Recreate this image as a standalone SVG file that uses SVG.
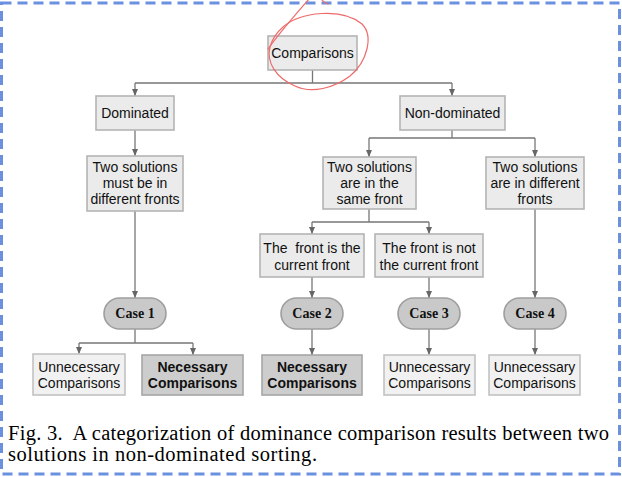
<svg xmlns="http://www.w3.org/2000/svg" width="622" height="477" viewBox="0 0 622 477">
<style>
.box{fill:#ebebeb;stroke:#b4b4b4;stroke-width:1.6}
.nec{fill:#cdcdcd;stroke:#a6a6a6;stroke-width:1.6}
.unn{fill:#f1f1f1;stroke:#c2c2c2;stroke-width:1.6}
.pill{fill:#c9c9c9;stroke:#9e9e9e;stroke-width:1.6}
.t{font-family:"Liberation Sans",Arial,sans-serif;font-size:14px;fill:#111;text-anchor:middle}
.b{font-weight:bold}
.c{font-family:"Liberation Serif","Times New Roman",serif;font-size:14px;font-weight:bold;fill:#111;text-anchor:middle}
.cap{font-family:"Liberation Serif","Times New Roman",serif;font-size:20.5px;fill:#000}
.ln{fill:none;stroke:#777;stroke-width:1.3}
</style>
<defs>
<marker id="ah" markerUnits="userSpaceOnUse" markerWidth="8" markerHeight="8" viewBox="0 0 8 8" refX="7" refY="4" orient="auto">
<path d="M0,1 L7,4 L0,7 Z" fill="#666"/>
</marker>
</defs>
<rect x="1.5" y="3" width="618" height="471" fill="#fff" stroke="#6b90e0" stroke-width="3" stroke-dasharray="10 6"/>
<g id="connectors">
<path class="ln" d="M312.5,70 V83 M135,83 H452"/>
<path class="ln" d="M135,83 V96" marker-end="url(#ah)"/>
<path class="ln" d="M452,83 V96" marker-end="url(#ah)"/>
<path class="ln" d="M135,130 V156" marker-end="url(#ah)"/>
<path class="ln" d="M452,130 V138 M369,138 H535"/>
<path class="ln" d="M369,138 V157" marker-end="url(#ah)"/>
<path class="ln" d="M535,138 V157" marker-end="url(#ah)"/>
<path class="ln" d="M135,211 V298" marker-end="url(#ah)"/>
<path class="ln" d="M369,209 V222 M312,222 H429"/>
<path class="ln" d="M312,222 V234" marker-end="url(#ah)"/>
<path class="ln" d="M429,222 V234" marker-end="url(#ah)"/>
<path class="ln" d="M312,277 V298" marker-end="url(#ah)"/>
<path class="ln" d="M429,277 V298" marker-end="url(#ah)"/>
<path class="ln" d="M535,209 V298" marker-end="url(#ah)"/>
<path class="ln" d="M135,329 V343 M79,343 H193"/>
<path class="ln" d="M79,343 V354" marker-end="url(#ah)"/>
<path class="ln" d="M193,343 V355" marker-end="url(#ah)"/>
<path class="ln" d="M312,329 V355" marker-end="url(#ah)"/>
<path class="ln" d="M429,329 V355" marker-end="url(#ah)"/>
<path class="ln" d="M535,329 V355" marker-end="url(#ah)"/>
</g>
<g id="comparisons"><rect class="box" x="268" y="36" width="89" height="34"/><text class="t" x="312.5" y="58">Comparisons</text></g>
<g id="dominated"><rect class="box" x="96" y="96" width="78" height="34"/><text class="t" x="135" y="118">Dominated</text></g>
<g id="nondominated"><rect class="box" x="400" y="96" width="105" height="34"/><text class="t" x="452.5" y="118">Non-dominated</text></g>
<g id="must-different"><rect class="box" x="87" y="156" width="96" height="55"/><text class="t" x="135" y="172">Two solutions</text><text class="t" x="135" y="188">must be in</text><text class="t" x="135" y="204">different fronts</text></g>
<g id="same-front"><rect class="box" x="323" y="157" width="93" height="52"/><text class="t" x="369.5" y="172">Two solutions</text><text class="t" x="369.5" y="188">are in the</text><text class="t" x="369.5" y="204">same front</text></g>
<g id="different-fronts"><rect class="box" x="486" y="157" width="98" height="52"/><text class="t" x="535" y="172">Two solutions</text><text class="t" x="535" y="188">are in different</text><text class="t" x="535" y="204">fronts</text></g>
<g id="front-current"><rect class="box" x="260" y="234" width="104" height="43"/><text class="t" x="312" y="253" xml:space="preserve">The  front is the</text><text class="t" x="312" y="270">current front</text></g>
<g id="front-not-current"><rect class="box" x="375" y="234" width="108" height="43"/><text class="t" x="429" y="253">The front is not</text><text class="t" x="429" y="270">the current front</text></g>
<g id="case1"><rect class="pill" x="104" y="298" width="62" height="31" rx="15.5"/><text class="c" x="135" y="318">Case 1</text></g>
<g id="case2"><rect class="pill" x="281" y="298" width="62" height="31" rx="15.5"/><text class="c" x="312" y="318">Case 2</text></g>
<g id="case3"><rect class="pill" x="398" y="298" width="62" height="31" rx="15.5"/><text class="c" x="429" y="318">Case 3</text></g>
<g id="case4"><rect class="pill" x="504" y="298" width="62" height="31" rx="15.5"/><text class="c" x="535" y="318">Case 4</text></g>
<g id="unnecessary1"><rect class="unn" x="33" y="354" width="92" height="41"/><text class="t" x="79" y="372">Unnecessary</text><text class="t" x="79" y="388">Comparisons</text></g>
<g id="necessary1"><rect class="nec" x="142" y="355" width="101" height="40"/><text class="t b" x="192.5" y="372">Necessary</text><text class="t b" x="192.5" y="388">Comparisons</text></g>
<g id="necessary2"><rect class="nec" x="262" y="355" width="100" height="40"/><text class="t b" x="312" y="372">Necessary</text><text class="t b" x="312" y="388">Comparisons</text></g>
<g id="unnecessary3"><rect class="unn" x="384" y="355" width="91" height="40"/><text class="t" x="429.5" y="372">Unnecessary</text><text class="t" x="429.5" y="388">Comparisons</text></g>
<g id="unnecessary4"><rect class="unn" x="489" y="355" width="91" height="40"/><text class="t" x="534.5" y="372">Unnecessary</text><text class="t" x="534.5" y="388">Comparisons</text></g>
<g id="annotation" fill="none" stroke="#ef6a6a" stroke-width="1.2" stroke-linecap="round">
<path d="M309,-1 C296,14 280,32 268,49"/>
<path d="M322,0 Q324,3 328,4"/>
<path d="M283,27 C300,12 342,7 362,24 C374,36 367,62 350,76 C334,88 312,94 295,86 C276,78 266,62 270,47 C272,40 276,33 283,27"/>
</g>
<text class="cap" x="8" y="440" xml:space="preserve" textLength="601" lengthAdjust="spacing">Fig. 3.  A categorization of dominance comparison results between two</text>
<text class="cap" x="8" y="461" textLength="309" lengthAdjust="spacing">solutions in non-dominated sorting.</text>
</svg>
